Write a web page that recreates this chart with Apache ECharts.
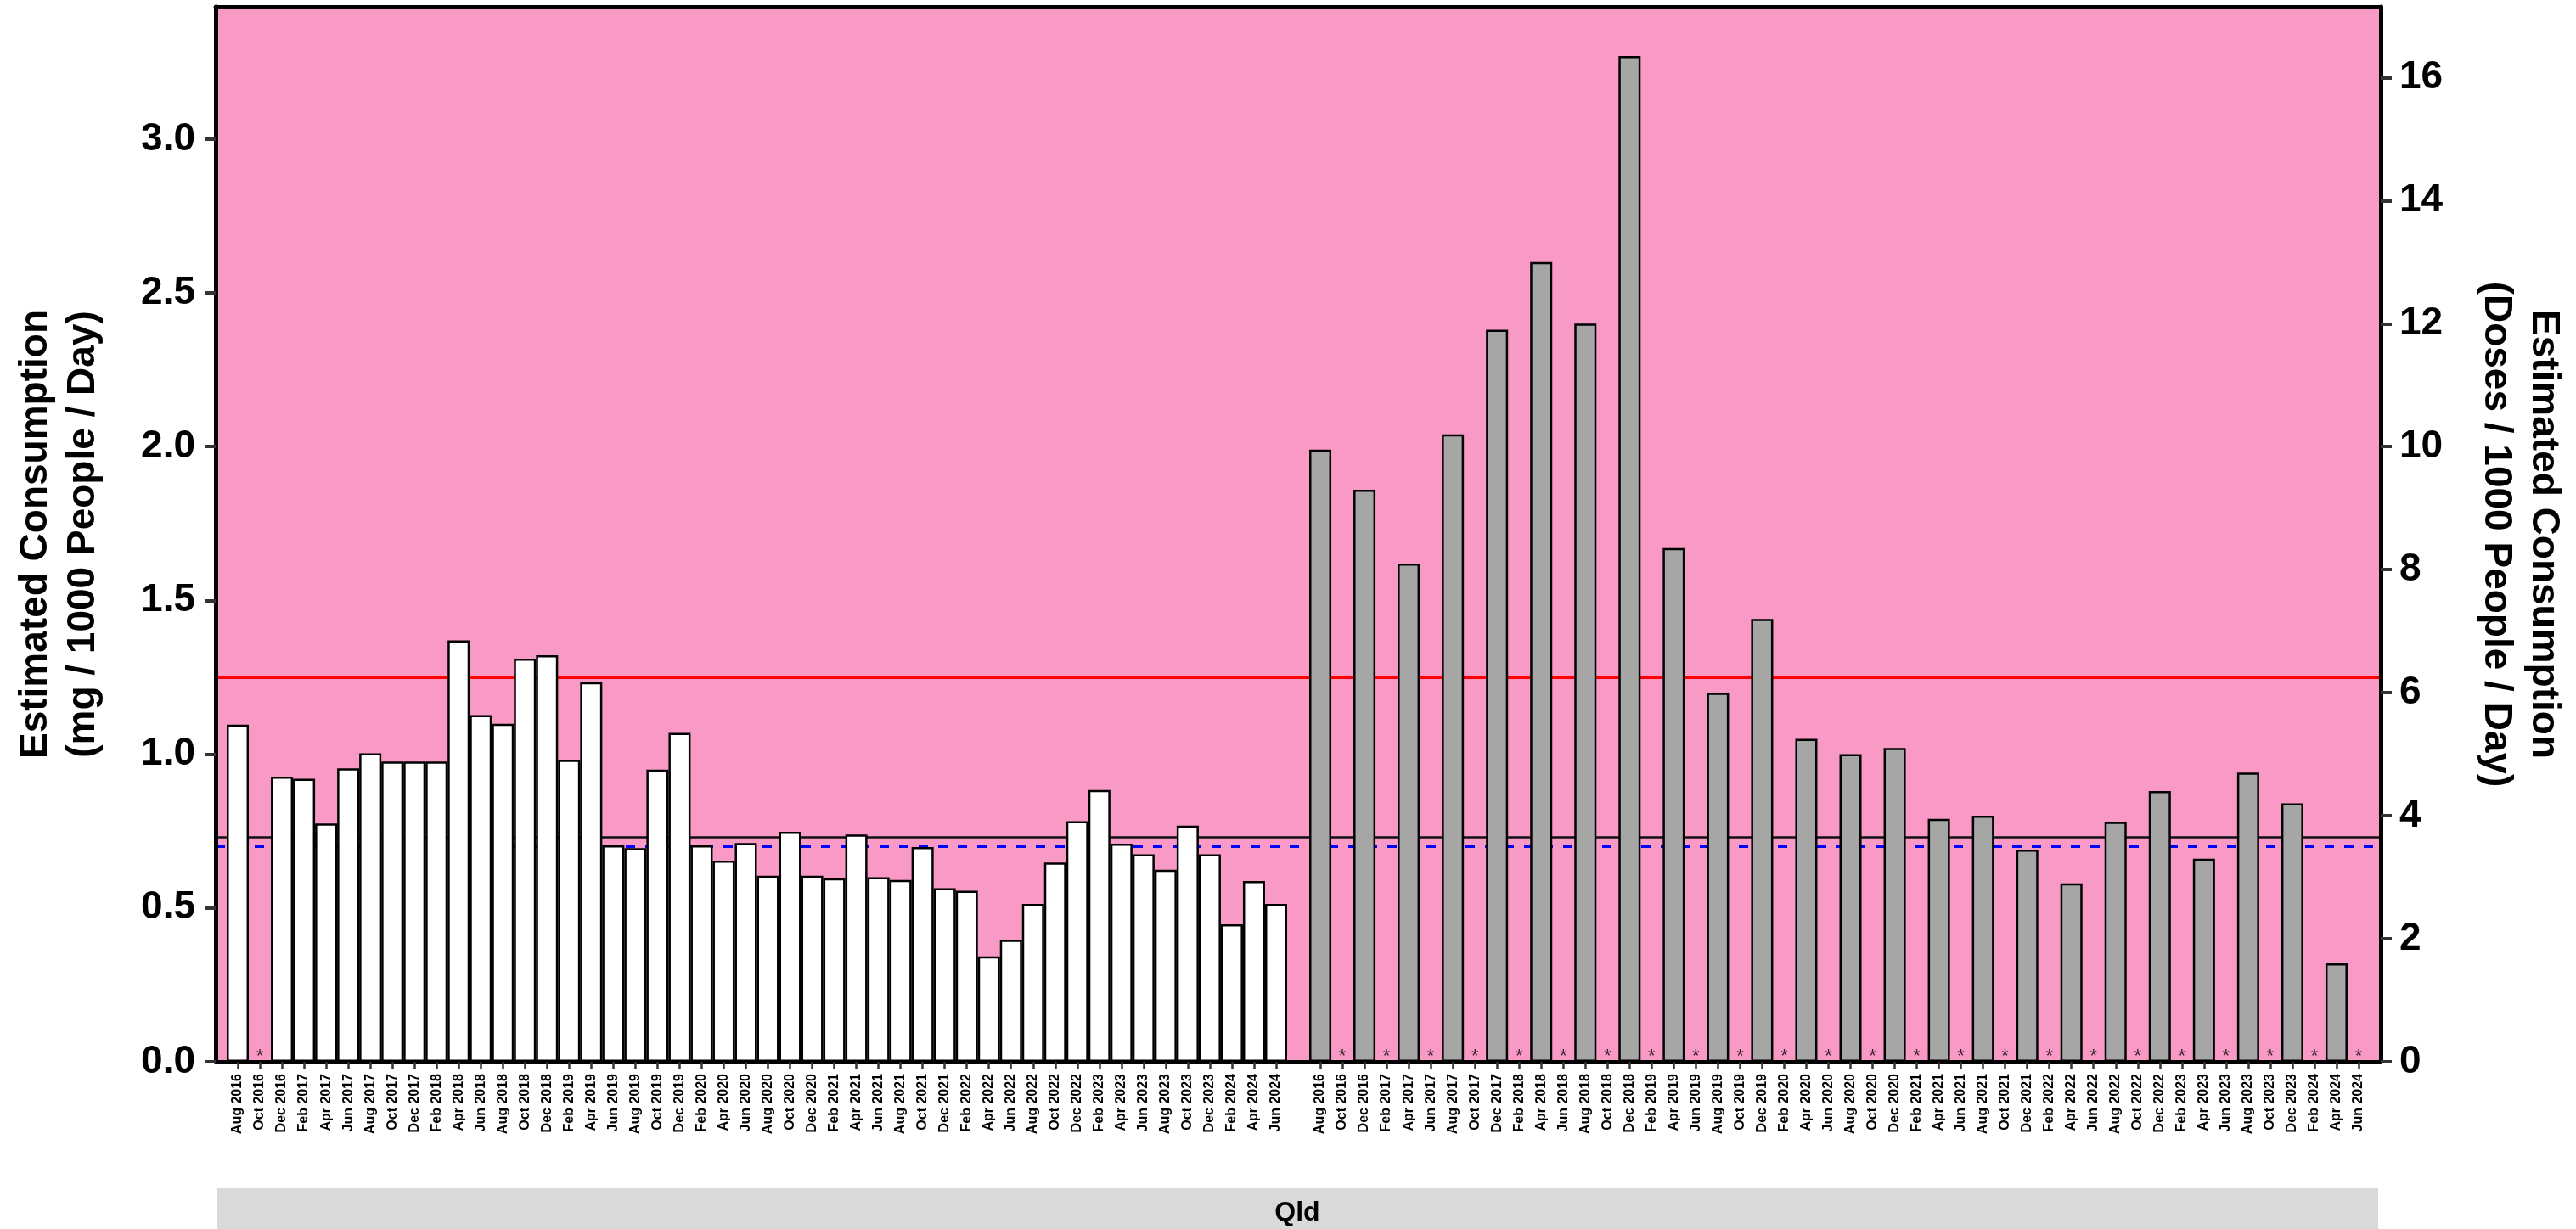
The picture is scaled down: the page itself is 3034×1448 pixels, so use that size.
<!DOCTYPE html>
<html>
<head>
<meta charset="utf-8">
<script src="https://cdn.jsdelivr.net/npm/echarts@6/dist/echarts.min.js"></script>
<style>
  html, body { margin: 0; padding: 0; background: #ffffff; }
  #chart { width: 3034px; height: 1448px; }
</style>
</head>
<body>
<div id="chart"></div>
<script>
// ---------------- DATA ----------------
const periods = [
  'Aug 2016','Oct 2016','Dec 2016',
  'Feb 2017','Apr 2017','Jun 2017','Aug 2017','Oct 2017','Dec 2017',
  'Feb 2018','Apr 2018','Jun 2018','Aug 2018','Oct 2018','Dec 2018',
  'Feb 2019','Apr 2019','Jun 2019','Aug 2019','Oct 2019','Dec 2019',
  'Feb 2020','Apr 2020','Jun 2020','Aug 2020','Oct 2020','Dec 2020',
  'Feb 2021','Apr 2021','Jun 2021','Aug 2021','Oct 2021','Dec 2021',
  'Feb 2022','Apr 2022','Jun 2022','Aug 2022','Oct 2022','Dec 2022',
  'Feb 2023','Apr 2023','Jun 2023','Aug 2023','Oct 2023','Dec 2023',
  'Feb 2024','Apr 2024','Jun 2024'
];

// Left panel: mg / 1000 people / day (null = no data, marked with *)
const mgPerDay = [
  1.096, null, 0.927,
  0.920, 0.775, 0.954, 1.003, 0.976, 0.976,
  0.976, 1.370, 1.127, 1.099, 1.311, 1.322,
  0.982, 1.234, 0.704, 0.695, 0.950, 1.069,
  0.704, 0.654, 0.711, 0.605, 0.748, 0.605,
  0.597, 0.739, 0.600, 0.591, 0.698, 0.564,
  0.556, 0.343, 0.397, 0.513, 0.648, 0.782,
  0.884, 0.709, 0.675, 0.624, 0.768, 0.675,
  0.447, 0.588, 0.513
];

// Right panel: doses / 1000 people / day (null = no data, marked with *)
const dosesPerDay = [
  9.95, null, 9.30,
  null, 8.10, null, 10.20, null, 11.90,
  null, 13.00, null, 12.00, null, 16.35,
  null, 8.35, null, 6.00, null, 7.20,
  null, 5.25, null, 5.00, null, 5.10,
  null, 3.95, null, 4.00, null, 3.45,
  null, 2.90, null, 3.90, null, 4.40,
  null, 3.30, null, 4.70, null, 4.20,
  null, 1.60, null
];

// Reference lines (left-axis units)
const refRed = 1.25;
const refBlack = 0.735;
const refBlue = 0.70;

const leftTicks = [0, 0.5, 1, 1.5, 2, 2.5, 3];
const rightTicks = [0, 2, 4, 6, 8, 10, 12, 14, 16];
const leftMax = 3.43;
const rightMax = 17.15;
const panelLabel = 'Qld';
const leftTitle = 'Estimated Consumption\n(mg / 1000 People / Day)';
const rightTitle = 'Estimated Consumption\n(Doses / 1000 People / Day)';

// ---------------- BUILD ----------------
const keys = ['pad0'];
periods.forEach(p => keys.push('L|' + p));
keys.push('gap');
periods.forEach(p => keys.push('R|' + p));
keys.push('pad1');

const leftData = keys.map(k => {
  if (!k.startsWith('L|')) return null;
  const i = periods.indexOf(k.slice(2));
  return mgPerDay[i];
});
const rightData = keys.map(k => {
  if (!k.startsWith('R|')) return null;
  const i = periods.indexOf(k.slice(2));
  return dosesPerDay[i];
});
const starData = [];
keys.forEach(k => {
  if (k.startsWith('L|')) {
    const i = periods.indexOf(k.slice(2));
    if (mgPerDay[i] == null) starData.push([k, 0]);
  } else if (k.startsWith('R|')) {
    const i = periods.indexOf(k.slice(2));
    if (dosesPerDay[i] == null) starData.push([k, 0]);
  }
});

const FONT = 'Liberation Sans, Arial, sans-serif';
const chart = echarts.init(document.getElementById('chart'), null, { renderer: 'canvas' });

const gridLeft = 254, gridRight = 230, gridTop = 8, gridBottom = 197;

const option = {
  backgroundColor: '#ffffff',
  animation: false,
  grid: {
    left: gridLeft, right: gridRight, top: gridTop, bottom: gridBottom,
    show: true, backgroundColor: '#F899C6', borderWidth: 0
  },
  xAxis: [
    {
      type: 'category', data: keys, boundaryGap: false, position: 'bottom', z: 6,
      axisLine: { show: true, onZero: false, lineStyle: { color: '#000', width: 5 } },
      axisTick: {
        show: true, length: 9, inside: false,
        interval: (idx, val) => val.indexOf('|') >= 0,
        lineStyle: { color: '#333', width: 2.5 }
      },
      axisLabel: {
        interval: 0, rotate: 90, margin: 14,
        fontFamily: FONT, fontWeight: 'bold', fontSize: 16, color: '#000',
        formatter: v => (v.indexOf('|') >= 0 ? v.slice(2) : '')
      },
      splitLine: { show: false }
    },
    {
      type: 'category', data: keys, boundaryGap: false, position: 'top', z: 6,
      axisLine: { show: true, onZero: false, lineStyle: { color: '#000', width: 5 } },
      axisTick: { show: false }, axisLabel: { show: false }, splitLine: { show: false }
    }
  ],
  yAxis: [
    {
      type: 'value', position: 'left', min: 0, max: leftMax, interval: 0.5, z: 6,
      axisLine: { show: true, onZero: false, lineStyle: { color: '#000', width: 5 } },
      axisTick: { show: true, length: 13, lineStyle: { color: '#333', width: 4 } },
      axisLabel: {
        margin: 24, showMaxLabel: false,
        fontFamily: FONT, fontWeight: 'bold', fontSize: 46, color: '#000',
        formatter: v => (leftTicks.indexOf(+v.toFixed(1)) >= 0 ? v.toFixed(1) : '')
      },
      splitLine: { show: false },
      name: leftTitle, nameLocation: 'middle', nameRotate: 90, nameGap: 128,
      nameTextStyle: { fontFamily: FONT, fontWeight: 'bold', fontSize: 46, color: '#000', lineHeight: 56, align: 'center' }
    },
    {
      type: 'value', position: 'right', min: 0, max: rightMax, interval: 2, z: 6,
      axisLine: { show: true, onZero: false, lineStyle: { color: '#000', width: 5 } },
      axisTick: { show: true, length: 13, lineStyle: { color: '#333', width: 4 } },
      axisLabel: {
        margin: 22, showMaxLabel: false,
        fontFamily: FONT, fontWeight: 'bold', fontSize: 46, color: '#000',
        formatter: v => (rightTicks.indexOf(v) >= 0 ? String(v) : '')
      },
      splitLine: { show: false },
      name: rightTitle, nameLocation: 'middle', nameRotate: -90, nameGap: 108,
      nameTextStyle: { fontFamily: FONT, fontWeight: 'bold', fontSize: 46, color: '#000', lineHeight: 56, align: 'center' }
    }
  ],
  series: [
    {
      name: 'refs', type: 'line', xAxisIndex: 0, yAxisIndex: 0, z: 1,
      data: [], silent: true, symbol: 'none',
      markLine: {
        silent: true, symbol: ['none', 'none'], label: { show: false }, z: 1,
        data: [
          { yAxis: refRed, lineStyle: { color: '#FF0000', width: 3, type: 'solid' } },
          { yAxis: refBlack, lineStyle: { color: '#111111', width: 2.5, type: 'solid' } },
          { yAxis: refBlue, lineStyle: { color: '#0000FF', width: 3, type: [11, 12] } }
        ]
      }
    },
    {
      name: 'mg', type: 'bar', xAxisIndex: 0, yAxisIndex: 0, z: 3,
      data: leftData, barWidth: '100%', barGap: '-100%',
      itemStyle: { color: '#ffffff', borderColor: '#000', borderWidth: 2.5 }
    },
    {
      name: 'doses', type: 'bar', xAxisIndex: 0, yAxisIndex: 1, z: 3,
      data: rightData, barWidth: '100%', barGap: '-100%',
      itemStyle: { color: '#A6A6A6', borderColor: '#000', borderWidth: 2.5 }
    },
    {
      name: 'missing', type: 'scatter', xAxisIndex: 0, yAxisIndex: 0, z: 4,
      data: starData, symbol: 'circle', symbolSize: 2,
      itemStyle: { color: 'rgba(0,0,0,0)' },
      label: {
        show: true, formatter: '*', position: 'top', distance: 0, offset: [0, 6],
        fontFamily: FONT, fontSize: 22, color: '#000'
      }
    }
  ],
  graphic: [
    {
      type: 'rect', left: 256, top: 1400, z: 0,
      shape: { width: 2545, height: 48 },
      style: { fill: '#D9D9D9' }
    },
    {
      type: 'text', z: 1,
      x: 1528, y: 1429,
      style: {
        text: panelLabel, fill: '#000', font: 'bold 32px ' + FONT,
        align: 'center', verticalAlign: 'middle'
      }
    }
  ]
};
chart.setOption(option);
</script>
</body>
</html>
